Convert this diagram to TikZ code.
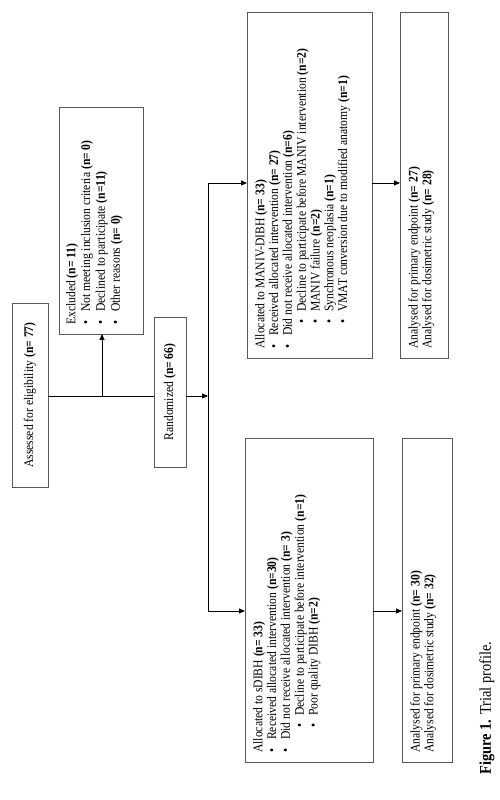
\documentclass[tikz,border=0pt]{standalone}
\usepackage{fontspec}
\setmainfont[FakeStretch=0.88]{Liberation Serif}
\usetikzlibrary{arrows.meta}
\newcommand{\bul}{\makebox[13pt][l]{•}}
\newcommand{\bulb}{\hspace*{25pt}\makebox[12pt][l]{•}}
\begin{document}
\begin{tikzpicture}[x=1pt,y=1pt,
  box/.style={draw=black!65,line width=0.8pt,inner sep=0pt,outer sep=0pt},
  txt/.style={rotate=90,anchor=north west,inner sep=0pt,align=left,font=\fontsize{13.2}{13.8}\selectfont},
  ctxt/.style={rotate=90,inner sep=0pt,font=\fontsize{13.2}{13.8}\selectfont},
  conn/.style={line width=0.8pt,draw=black},
  arr/.style={conn,-{Triangle[length=6pt,width=5pt]}}]
\fill[white] (0,0) rectangle (500,800);
\useasboundingbox (0,0) rectangle (500,800);

% boxes
\node[box,minimum width=36pt,minimum height=184pt] (assessed) at (30,405) {};
\node[box,minimum width=84pt,minimum height=227pt] (excluded) at (101,579.5) {};
\node[box,minimum width=32pt,minimum height=150pt] (random) at (170,408) {};
\node[box,minimum width=125pt,minimum height=346pt] (maniv) at (309.5,615) {};
\node[box,minimum width=48pt,minimum height=346pt] (anatop) at (424,615) {};
\node[box,minimum width=128pt,minimum height=324pt] (sdibh) at (309,200) {};
\node[box,minimum width=50pt,minimum height=324pt] (anabot) at (427,200) {};

% texts
\node[ctxt] (tassessed) at (assessed.center) {Assessed for eligibility \textbf{(n= 77)}};
\node[ctxt] (trandom) at (random.center) {Randomized \textbf{(n= 66)}};
\node[txt,font=\fontsize{13.2}{14.8}\selectfont] (texcluded) at ([shift={(7,9)}]excluded.south west) {Excluded \textbf{(n= 11)}\\
\bul Not meeting inclusion criteria \textbf{(n= 0)}\\
\bul Declined to participate \textbf{(n=11)}\\
\bul Other reasons \textbf{(n= 0)}};
\node[txt] (tmaniv) at ([shift={(8,9)}]maniv.south west) {Allocated to MANIV-DIBH \textbf{(n= 33)}\\
\bul Received allocated intervention \textbf{(n= 27)}\\
\bul Did not receive allocated intervention \textbf{(n=6)}\\
\bulb Decline to participate before MANIV intervention \textbf{(n=2)}\\
\bulb MANIV failure \textbf{(n=2)}\\
\bulb Synchronous neoplasia \textbf{(n=1)}\\
\bulb VMAT conversion due to modified anatomy \textbf{(n=1)}};
\node[txt] (tanatop) at ([shift={(8,9)}]anatop.south west) {Analysed for primary endpoint \textbf{(n= 27)}\\
Analysed for dosimetric study \textbf{(n= 28)}};
\node[txt] (tsdibh) at ([shift={(8,9)}]sdibh.south west) {Allocated to sDIBH \textbf{(n= 33)}\\
\bul Received allocated intervention \textbf{(n=30)}\\
\bul Did not receive allocated intervention \textbf{(n= 3)}\\
\bulb Decline to participate before intervention \textbf{(n=1)}\\
\bulb Poor quality DIBH \textbf{(n=2)}};
\node[txt] (tanabot) at ([shift={(8,9)}]anabot.south west) {Analysed for primary endpoint \textbf{(n= 30)}\\
Analysed for dosimetric study \textbf{(n= 32)}};
\node[rotate=90,inner sep=0pt,font=\fontsize{16.4}{19}\selectfont] (caption) at (487,92) {\textbf{Figure 1.} Trial profile.};

% connector coordinates
\coordinate (lvl) at (0,404);
\coordinate (exclx) at (102,0);
\coordinate (split) at (208,0);
\coordinate (mtop) at (0,617);
\coordinate (mbot) at (0,189);

% connectors
\draw[conn] (assessed.east |- lvl) -- (random.west |- lvl);
\draw[arr] (exclx |- lvl) -- (exclx |- excluded.south);
\draw[arr] (random.east |- lvl) -- (split |- lvl);
\draw[conn] (split |- mtop) -- (split |- mbot);
\draw[arr] (split |- mtop) -- (maniv.west |- mtop);
\draw[arr] (split |- mbot) -- (sdibh.west |- mbot);
\draw[arr] (maniv.east |- mtop) -- (anatop.west |- mtop);
\draw[arr] (sdibh.east |- mbot) -- (anabot.west |- mbot);
\end{tikzpicture}
\end{document}
